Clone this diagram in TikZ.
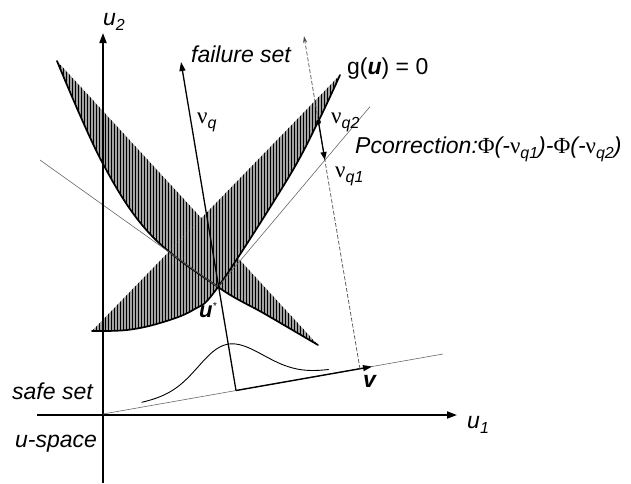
\documentclass[tikz,border=0pt]{standalone}
\usepackage{fontspec}
\setmainfont{Liberation Sans}
\newfontfamily\grk{Liberation Serif}
\usetikzlibrary{arrows.meta,patterns.meta}
\newcommand\lsub[1]{\raisebox{-5pt}{\fontsize{16}{16}\selectfont\itshape #1}}
\newcommand\gnu{{\grk\upshape ν}}
\newcommand\gphi{{\grk\upshape Φ}}
\tikzset{
  axisline/.style={line width=1.8pt,-{Triangle[length=10pt,width=7pt]}},
  greyline/.style={line width=0.6pt,draw=black!60},
  hatch/.style={fill=black!36,postaction={pattern={Lines[angle=90,distance=3pt,line width=1pt]}}},
  bound/.style={line width=1.7pt,line join=round,line cap=round},
  lbl/.style={font=\fontsize{23}{26}\selectfont\itshape,inner sep=0pt,anchor=base west},
  upl/.style={font=\fontsize{23}{26}\selectfont,inner sep=0pt,anchor=base west},
}
\begin{document}
\begin{tikzpicture}[x=1pt,y=-1pt]
\useasboundingbox (0,0) rectangle (631,483);
% named points
\coordinate (O) at (103,414);
\coordinate (E) at (443,354);
\coordinate (F) at (236,390.5);
\coordinate (V) at (372,366.6);
\coordinate (FT) at (181,62);
\coordinate (D) at (360,369);
\coordinate (DT) at (304,36);
\coordinate (us) at (218,287);
\coordinate (T1) at (40,160);
\coordinate (T2) at (370,106.6);
\coordinate (P2) at (318.5,122);
\coordinate (P1) at (324.9,160);
\coordinate (Ab) at (103,483);
\coordinate (At) at (103,33);
\coordinate (Bl) at (37,415);
\coordinate (Br) at (457,415);
% hatched regions
\path[hatch] plot[smooth,tension=0.6] coordinates {(57,61) (102,162) (150,234) (218,287) (265,314) (318,345)} -- cycle;
\path[hatch] plot[smooth,tension=0.6] coordinates {(92,331) (127,330) (160,323) (193,310) (218,287) (287,180) (318,122) (340,75)} -- cycle;
% boundaries
\draw[bound] plot[smooth,tension=0.6] coordinates {(57,61) (102,162) (150,234) (218,287) (265,314) (318,345)};
\draw[bound] plot[smooth,tension=0.6] coordinates {(92,331) (127,330) (160,323) (193,310) (218,287) (287,180) (318,122) (340,75)};
% tangent lines
\draw[greyline] (T1) -- (us);
\draw[greyline] (us) -- (T2);
% axes
\draw[axisline] (Ab) -- (At);
\draw[axisline] (Bl) -- (Br);
% v direction
\draw[greyline] (O) -- (E);
\draw[line width=1.4pt,-{Triangle[length=9pt,width=6pt]}] (F) -- (V);
% normal line
\draw[line width=1.3pt,-{Triangle[length=9pt,width=6pt]}] (F) -- (FT);
% dashed parallel
\draw[line width=0.7pt,draw=black!70,dashed,dash pattern=on 4pt off 2pt,-{Stealth[length=7pt,width=4pt]}] (D) -- (DT);
% correction arrow
\fill (P2) circle (2.4);
\draw[line width=1.3pt,-{Triangle[length=8pt,width=6pt]}] (P2) -- (P1);
% bell curve
\draw[line width=0.9pt] plot[domain=-95:95,samples=80,variable=\s,smooth]
  ({236+0.985*\s-0.173*(4+43*exp(-\s*\s/2178))},{390.5-0.173*\s-0.985*(4+43*exp(-\s*\s/2178))});
% labels
\node[lbl] (lu2) at (103,25) {u\lsub{2}};
\node[lbl] (lu1) at (467,428) {u\lsub{1}};
\node[lbl] (lfs) at (191,62) {failure set};
\node[lbl] (lss) at (12,399) {safe set};
\node[lbl] (lsp) at (15,447) {u-space};
\node[upl] (lg) at (347,74) {g(\textbf{\textit{u}}) = 0};
\node[lbl] (lpc) at (355,153) {Pcorrection:\gphi(-\gnu\lsub{q1})-\gphi(-\gnu\lsub{q2})};
\node[upl] (lnq) at (197,123) {\gnu\lsub{q}};
\node[upl] (lnq2) at (331,123) {\gnu\lsub{q2}};
\node[upl] (lnq1) at (335,177) {\gnu\lsub{q1}};
\node[lbl,font=\fontsize{23}{26}\selectfont\bfseries\itshape] (lv) at (363,387) {v};
\node[lbl,font=\fontsize{22}{24}\selectfont\bfseries\itshape] (lus) at (199,317) {u\raisebox{8pt}{\fontsize{10}{10}\selectfont\mdseries *}};
\end{tikzpicture}
\end{document}
